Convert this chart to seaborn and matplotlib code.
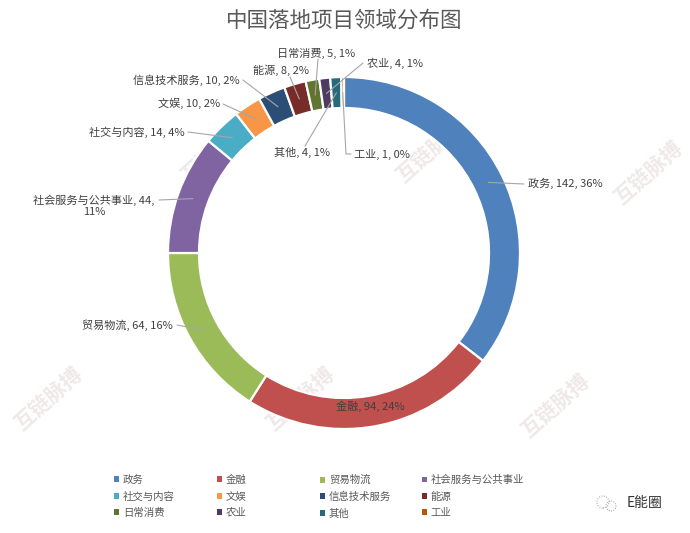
import matplotlib
matplotlib.use("Agg")
import matplotlib.pyplot as plt
import seaborn as sns
import numpy as np
from matplotlib.patches import Patch, Circle

# ---------------- data ----------------
title = "中国落地项目领域分布图"
categories = ["政务", "金融", "贸易物流", "社会服务与公共事业", "社交与内容", "文娱",
              "信息技术服务", "能源", "日常消费", "农业", "其他", "工业"]
values = [142, 94, 64, 44, 14, 10, 10, 8, 5, 4, 4, 1]
percents = [36, 24, 16, 11, 4, 2, 2, 2, 1, 1, 1, 0]
colors_hex = ["#4F81BD", "#C0504D", "#9BBB59", "#8064A2", "#4BACC6", "#F79646",
              "#2C4D75", "#772C2A", "#5F7530", "#4D3B62", "#276A7C", "#B65708"]

# ---------------- style ----------------
sns.set_theme(style="white")
plt.rcParams['font.family'] = ['Noto Sans CJK SC', 'DejaVu Sans']
palette = sns.color_palette(colors_hex)

W, H = 690, 533
fig = plt.figure(figsize=(W / 100, H / 100), dpi=100)
fig.patch.set_facecolor("white")
ax = fig.add_axes([0, 0, 1, 1])

def P(x, y):
    """pixel (from top-left) -> data coords"""
    return x, H - y

cx, cy = P(344, 253)
R = 176
RING = 31

# watermarks (faint)
for (wx, wy) in [(430, 150), (300, 398), (555, 405), (48, 398), (215, 150), (648, 172)]:
    ax.text(*P(wx, wy), "互链脉搏", rotation=42, fontsize=15, color="#ece3e3",
            ha="center", va="center", zorder=0, fontweight="bold", alpha=0.8)

wedges, _ = ax.pie(values, colors=palette, startangle=90, counterclock=False,
                   center=(cx, cy), radius=R,
                   wedgeprops=dict(width=RING, edgecolor="white", linewidth=1.6))
for w in wedges:
    w.set_zorder(2)

ax.set_xlim(0, W)
ax.set_ylim(0, H)
ax.set_aspect("equal")
ax.axis("off")

# title
ax.text(*P(344, 21), title, ha="center", va="center", fontsize=15.5, color="#595959")

# label placement: text pos, ha, line end (pixels)
place = {
    "政务": ((528, 183), "left", (524, 184)),
    "金融": ((370, 406), "center", None),
    "贸易物流": ((173, 325), "right", (177, 325)),
    "社会服务与公共事业": ((94, 206), "center", (159, 200)),
    "社交与内容": ((185, 132), "right", (188, 132)),
    "文娱": ((220, 103), "right", (223, 104)),
    "信息技术服务": ((240, 80), "right", (243, 80)),
    "能源": ((281, 70), "center", (290, 77)),
    "日常消费": ((316, 53), "center", (318, 59)),
    "农业": ((367, 63), "left", (363, 63)),
    "其他": ((302, 152), "center", (305, 146)),
    "工业": ((354, 154), "left", (351, 154)),
}

for cat, val, pct, w in zip(categories, values, percents, wedges):
    (tx, ty), ha, end = place[cat]
    if cat == "社会服务与公共事业":
        label = f"{cat}, {val},\n{pct}%"
    else:
        label = f"{cat}, {val}, {pct}%"
    ax.text(*P(tx, ty), label, ha=ha, va="center", fontsize=8, color="#404040",
            linespacing=1.1, zorder=5, multialignment="center")
    if end is not None:
        th = np.deg2rad((w.theta1 + w.theta2) / 2)
        rm = R - RING / 2
        sx, sy = cx + rm * np.cos(th), cy + rm * np.sin(th)
        ex, ey = P(*end)
        if cat == "工业":
            kx, ky = P(346, 154)
            ax.plot([sx, kx, ex], [sy, ky, ey], color="#a6a6a6", lw=0.8, zorder=4)
        else:
            ax.plot([sx, ex], [sy, ey], color="#a6a6a6", lw=0.8, zorder=4)

# legend: 4 columns placed at fixed pixel columns
col_x = [114, 217, 320, 422]
for j in range(4):
    idx = [j, j + 4, j + 8]
    handles = [Patch(facecolor=palette[i], edgecolor="none") for i in idx]
    labels = [categories[i] for i in idx]
    leg = fig.legend(handles, labels, loc="upper left",
                     bbox_to_anchor=(col_x[j] / W, 1 - 475 / H),
                     frameon=False, fontsize=7.5, handlelength=0.5, handleheight=0.5,
                     handletextpad=0.35, labelspacing=0.62, borderaxespad=0, borderpad=0)
    for t in leg.get_texts():
        t.set_color("#595959")

# bottom-right mark
ax.add_patch(Circle(P(603, 502), 6, fill=False, ls=(0, (1, 1.5)), lw=0.7, ec="#9a9a9a"))
ax.add_patch(Circle(P(611, 506), 5, fill=False, ls=(0, (1, 1.5)), lw=0.7, ec="#9a9a9a"))
ax.text(*P(627, 503), "E能圈", ha="left", va="center", fontsize=10, color="#333333")

fig.savefig("out.png", dpi=100, facecolor="white")
